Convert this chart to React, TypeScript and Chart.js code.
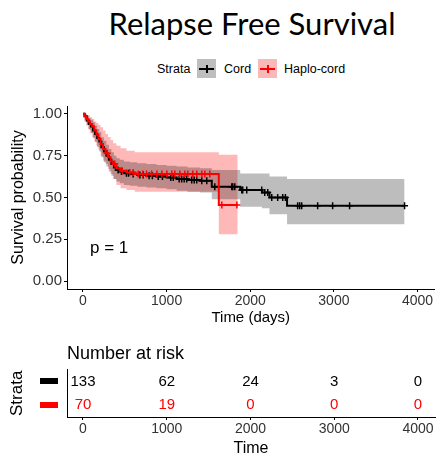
import React, { useEffect, useRef } from "react";
import { Chart, registerables } from "chart.js";
Chart.register(...registerables);

// ---------- data ----------
const titleText = "Relapse Free Survival";
const legendTitle = "Strata";
const strataNames = ["Cord", "Haplo-cord"];
const xTicks = [0, 1000, 2000, 3000, 4000];
const yTicks = [0, 0.25, 0.5, 0.75, 1];
const yTickLabels = ["0.00", "0.25", "0.50", "0.75", "1.00"];

const cordTimes = [0, 20, 45, 70, 95, 120, 145, 170, 195, 220, 250, 280, 310, 340, 370, 400, 440, 490, 560, 650, 760, 880, 1000, 1120, 1250, 1400, 1540, 1880, 2140, 2230, 2440, 3845];
const cordSurv = [1, 0.985, 0.96, 0.94, 0.925, 0.9, 0.88, 0.855, 0.835, 0.8, 0.775, 0.75, 0.725, 0.7, 0.68, 0.665, 0.655, 0.645, 0.64, 0.635, 0.63, 0.625, 0.62, 0.61, 0.605, 0.6, 0.565, 0.545, 0.53, 0.5, 0.45, 0.45];
const cordUpper = [1, 1, 0.99, 0.975, 0.965, 0.95, 0.93, 0.91, 0.89, 0.86, 0.84, 0.815, 0.79, 0.77, 0.75, 0.735, 0.725, 0.715, 0.71, 0.705, 0.7, 0.695, 0.69, 0.685, 0.68, 0.675, 0.665, 0.643, 0.643, 0.625, 0.61, 0.61];
const cordLower = [1, 0.965, 0.935, 0.905, 0.885, 0.855, 0.83, 0.8, 0.775, 0.74, 0.71, 0.685, 0.655, 0.63, 0.61, 0.595, 0.585, 0.575, 0.57, 0.565, 0.56, 0.555, 0.55, 0.54, 0.535, 0.53, 0.49, 0.445, 0.435, 0.4, 0.34, 0.34];
const cordCensor = [420, 460, 520, 545, 600, 680, 720, 790, 830, 900, 950, 1050, 1080, 1150, 1180, 1210, 1240, 1300, 1330, 1360, 1420, 1480, 1576, 1779, 1791, 1815, 1899, 1910, 1958, 2137, 2173, 2209, 2257, 2328, 2388, 2420, 2567, 2591, 2615, 2806, 2985, 3188, 3845];

const haploTimes = [0, 15, 40, 60, 85, 110, 135, 160, 185, 210, 240, 270, 300, 330, 360, 400, 450, 520, 620, 1624, 1850];
const haploSurv = [1, 0.985, 0.97, 0.955, 0.94, 0.925, 0.9, 0.875, 0.85, 0.82, 0.79, 0.765, 0.74, 0.715, 0.7, 0.675, 0.66, 0.65, 0.64, 0.455, 0.455];
const haploUpper = [1, 1, 0.995, 0.99, 0.98, 0.97, 0.955, 0.945, 0.933, 0.92, 0.9, 0.88, 0.862, 0.843, 0.825, 0.81, 0.795, 0.78, 0.77, 0.755, 0.755];
const haploLower = [1, 0.955, 0.93, 0.91, 0.885, 0.86, 0.835, 0.81, 0.785, 0.75, 0.72, 0.7, 0.67, 0.64, 0.61, 0.575, 0.555, 0.545, 0.535, 0.28, 0.28];
const haploCensor = [290, 380, 470, 560, 600, 660, 716, 760, 820, 884, 943, 1003, 1063, 1098, 1158, 1218, 1254, 1313, 1361, 1421, 1457, 1516, 1660, 1840];

const pValueText = "p = 1";
const riskTimes = [0, 1000, 2000, 3000, 4000];
const cordRisk = [133, 62, 24, 3, 0];
const haploRisk = [70, 19, 0, 0, 0];

// ---------- helpers ----------
const COLORS = ["#000000", "#ff0000"];
const BANDS = ["rgba(0,0,0,0.26)", "rgba(255,0,0,0.28)"];
const FONT = "'Liberation Sans', Arial, sans-serif";
const X_MIN = -191;
const X_MAX = 4203;

function stepAt(times: number[], vals: number[], t: number) {
  let v = vals[0];
  for (let i = 0; i < times.length; i++) if (times[i] <= t) v = vals[i];
  return v;
}
const pts = (times: number[], vals: number[]) => times.map((t, i) => ({ x: t, y: vals[i] }));
const censorPts = (c: number[], times: number[], vals: number[]) =>
  c.map((t) => ({ x: t, y: stepAt(times, vals, t) }));
const plainTick = (v: any) => String(v);

function MainChart() {
  const ref = useRef<HTMLCanvasElement | null>(null);
  useEffect(() => {
    if (!ref.current) return;
    const band = (data: any, color: string, fill: any) => ({
      data, stepped: "before", borderWidth: 0, pointRadius: 0, backgroundColor: color,
      borderColor: "transparent", fill, order: 10,
    });
    const pvalPlugin = {
      id: "pval",
      afterDatasetsDraw(chart: any) {
        const { ctx, scales } = chart;
        ctx.save();
        ctx.font = `17px ${FONT}`;
        ctx.fillStyle = "#000";
        ctx.textAlign = "left";
        ctx.textBaseline = "middle";
        ctx.fillText(pValueText, scales.x.getPixelForValue(84), scales.y.getPixelForValue(0.195));
        ctx.restore();
      },
    };
    const chart = new Chart(ref.current, {
      type: "line",
      data: {
        datasets: [
          band(pts(cordTimes, cordUpper), BANDS[0], "+1"),
          band(pts(cordTimes, cordLower), "transparent", false),
          band(pts(haploTimes, haploUpper), BANDS[1], "+1"),
          band(pts(haploTimes, haploLower), "transparent", false),
          { label: strataNames[0], data: pts(cordTimes, cordSurv), stepped: "before", borderColor: COLORS[0], borderWidth: 2, pointRadius: 0, fill: false, order: 4 },
          { label: strataNames[0] + " censor", data: censorPts(cordCensor, cordTimes, cordSurv), showLine: false, pointStyle: "cross", pointRadius: 3.5, pointBorderColor: COLORS[0], pointBorderWidth: 1.5, order: 3 },
          { label: strataNames[1], data: pts(haploTimes, haploSurv), stepped: "before", borderColor: COLORS[1], borderWidth: 2, pointRadius: 0, fill: false, order: 2 },
          { label: strataNames[1] + " censor", data: censorPts(haploCensor, haploTimes, haploSurv), showLine: false, pointStyle: "cross", pointRadius: 3.5, pointBorderColor: COLORS[1], pointBorderWidth: 1.5, order: 1 },
        ] as any,
      },
      options: {
        animation: false,
        responsive: false,
        devicePixelRatio: 1,
        layout: { padding: { top: 7, right: 5, left: 0, bottom: 0 } },
        plugins: { legend: { display: false }, tooltip: { enabled: false } },
        scales: {
          x: {
            type: "linear", min: X_MIN, max: X_MAX,
            afterBuildTicks: (s: any) => { s.ticks = xTicks.map((v) => ({ value: v })); },
            afterFit: (s: any) => { s.height = 41; },
            grid: { display: true, drawOnChartArea: false, drawTicks: true, tickLength: 3, color: "#000" },
            border: { display: true, color: "#000", width: 1 },
            ticks: { color: "#333", font: { family: FONT, size: 14 }, padding: 1, maxRotation: 0, callback: plainTick },
            title: { display: true, text: "Time (days)", color: "#000", font: { family: FONT, size: 15 }, padding: { top: 0, bottom: 3 } },
          },
          y: {
            type: "linear", min: -0.047, max: 1.047,
            afterBuildTicks: (s: any) => { s.ticks = yTicks.map((v) => ({ value: v })); },
            afterFit: (s: any) => { s.width = 67; },
            grid: { display: true, drawOnChartArea: false, drawTicks: true, tickLength: 3, color: "#000" },
            border: { display: true, color: "#000", width: 1 },
            ticks: { color: "#333", font: { family: FONT, size: 15 }, padding: 2, callback: (v: any) => yTickLabels[yTicks.indexOf(v)] ?? "" },
            title: { display: true, text: "Survival probability", color: "#000", font: { family: FONT, size: 16 }, padding: { top: 9, bottom: 0 } },
          },
        },
      } as any,
      plugins: [pvalPlugin],
    });
    return () => chart.destroy();
  }, []);
  return <canvas ref={ref} width={440} height={235} style={{ position: "absolute", left: 0, top: 95, width: 440, height: 235 }} />;
}

function RiskTable() {
  const ref = useRef<HTMLCanvasElement | null>(null);
  useEffect(() => {
    if (!ref.current) return;
    const rows = [cordRisk, haploRisk];
    const riskPlugin = {
      id: "risk",
      afterDatasetsDraw(chart: any) {
        const { ctx, scales } = chart;
        ctx.save();
        ctx.font = `15px ${FONT}`;
        ctx.textAlign = "center";
        ctx.textBaseline = "middle";
        rows.forEach((row, r) => {
          const y = scales.y.getPixelForValue(r + 1);
          ctx.fillStyle = COLORS[r];
          row.forEach((n, i) => ctx.fillText(String(n), scales.x.getPixelForValue(riskTimes[i]), y));
          ctx.fillRect(40, Math.round(y) - 3, 18, 6);
        });
        ctx.restore();
      },
    };
    const chart = new Chart(ref.current, {
      type: "scatter",
      data: { datasets: [{ data: [] }] },
      options: {
        animation: false,
        responsive: false,
        devicePixelRatio: 1,
        layout: { padding: { top: 0, right: 5, left: 0, bottom: 0 } },
        plugins: {
          legend: { display: false },
          tooltip: { enabled: false },
          title: { display: true, text: "Number at risk", align: "start", fullSize: false, color: "#000", font: { family: FONT, size: 18, weight: "normal" }, padding: { top: 8, bottom: 5 } },
        },
        scales: {
          x: {
            type: "linear", min: X_MIN, max: X_MAX,
            afterBuildTicks: (s: any) => { s.ticks = xTicks.map((v) => ({ value: v })); },
            afterFit: (s: any) => { s.height = 42; },
            grid: { display: true, drawOnChartArea: false, drawTicks: true, tickLength: 3, color: "#000" },
            border: { display: true, color: "#000", width: 1 },
            ticks: { color: "#333", font: { family: FONT, size: 14 }, padding: 1, maxRotation: 0, callback: plainTick },
            title: { display: true, text: "Time", color: "#000", font: { family: FONT, size: 16 }, padding: { top: 0, bottom: 1 } },
          },
          y: {
            type: "linear", min: 0.5, max: 2.5, reverse: true,
            afterFit: (s: any) => { s.width = 67; },
            grid: { display: false },
            border: { display: true, color: "#000", width: 1 },
            ticks: { display: false },
            title: { display: true, text: legendTitle, color: "#000", font: { family: FONT, size: 17 }, padding: { top: 7, bottom: 0 } },
          },
        },
      } as any,
      plugins: [riskPlugin],
    });
    return () => chart.destroy();
  }, []);
  return <canvas ref={ref} width={440} height={124} style={{ position: "absolute", left: 0, top: 335, width: 440, height: 124 }} />;
}

function LegendKey({ left, bg, line }: { left: number; bg: string; line: string }) {
  return (
    <div style={{ position: "absolute", left, top: 59, width: 19, height: 19, background: bg }}>
      <div style={{ position: "absolute", left: 2, top: 8.5, width: 15, height: 2, background: line }} />
      <div style={{ position: "absolute", left: 8.5, top: 5.5, width: 2, height: 8, background: line }} />
    </div>
  );
}

const legendText = (left: number, text: string) => (
  <div style={{ position: "absolute", left, top: 69, transform: "translateY(-50%)", fontFamily: FONT, fontSize: 12.5, color: "#000", whiteSpace: "nowrap", lineHeight: "14px" }}>{text}</div>
);

export default function App() {
  return (
    <div style={{ position: "absolute", left: 0, top: 0, width: 440, height: 459, background: "#fff", overflow: "hidden" }}>
      <div style={{ position: "absolute", left: 67, top: 23, width: 370, transform: "translateY(-50%)", textAlign: "center", fontFamily: "Lato, 'Open Sans', sans-serif", fontSize: 31, color: "#000", whiteSpace: "nowrap", lineHeight: "34px" }}>{titleText}</div>
      {legendText(157, legendTitle)}
      <LegendKey left={197} bg="rgb(190,190,190)" line={COLORS[0]} />
      {legendText(224, strataNames[0])}
      <LegendKey left={258} bg="rgb(250,185,185)" line={COLORS[1]} />
      {legendText(284, strataNames[1])}
      <MainChart />
      <RiskTable />
    </div>
  );
}
